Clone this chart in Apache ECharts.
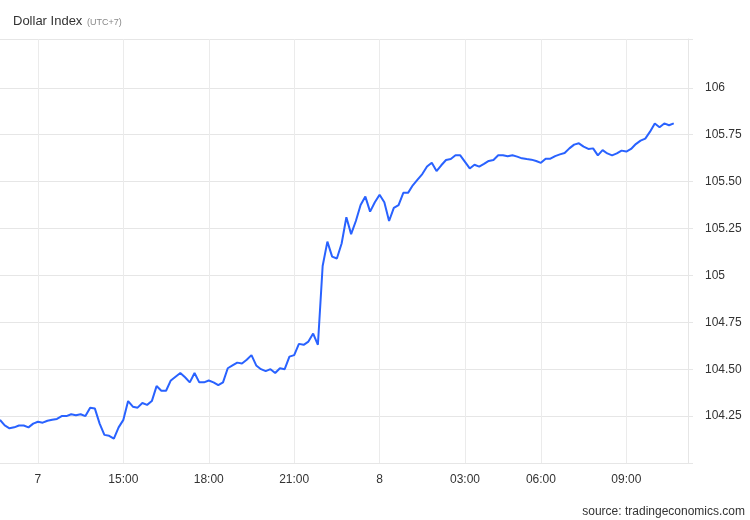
<!DOCTYPE html>
<html><head><meta charset="utf-8">
<script src="https://cdn.jsdelivr.net/npm/echarts@6/dist/echarts.min.js"></script>
<style>html,body{margin:0;padding:0;background:#fff}#c{width:750px;height:520px}</style>
</head><body><div id="c"></div>
<script>
const day7Times = [
"10:40","10:50","11:00","11:10","11:20","11:30","11:40","11:50",
"12:00","12:10","12:20","12:30","12:40","12:50","13:00","13:10","13:20","13:30","13:40","13:50",
"14:00","14:10","14:20","14:30","14:40","14:50","15:00","15:10","15:20","15:30","15:40","15:50",
"16:00","16:10","16:20","16:30","16:40","16:50","17:00","17:10","17:20","17:30","17:40","17:50",
"18:00","18:10","18:20","18:30","18:40","18:50","19:00","19:10","19:20","19:30","19:40","19:50",
"20:00","20:10","20:20","20:30","20:40","20:50","21:00","21:10","21:20","21:30","21:40","21:50",
"22:00","22:10","22:20","22:30","22:40","22:50","23:00","23:10","23:20","23:30","23:40","23:50"];
const day8Times = [
"00:00","00:10","00:20","00:30","00:40","00:50","01:00","01:10","01:20","01:30","01:40","01:50",
"02:00","02:10","02:20","02:30","02:40","02:50","03:00","03:10","03:20","03:30","03:40","03:50",
"04:00","04:10","04:20","04:30","04:40","04:50","05:20","05:30","05:40","05:50",
"06:00","06:10","06:20","06:30","06:40","06:50","07:00","07:10","07:20","07:30","07:40","07:50",
"08:00","08:10","08:20","08:30","08:40","08:50","09:00","09:10","09:20","09:30","09:40","09:50",
"10:00","10:10","10:20","10:30","10:40","10:50","11:00","11:10"];
const dollarIndex = [
104.23,104.20,104.185,104.19,104.20,104.20,104.19,104.21,104.22,104.215,
104.225,104.23,104.235,104.25,104.25,104.26,104.255,104.26,104.25,104.295,
104.29,104.21,104.15,104.145,104.13,104.19,104.23,104.33,104.30,104.295,
104.32,104.31,104.33,104.41,104.385,104.385,104.44,104.46,104.48,104.457,
104.43,104.48,104.43,104.43,104.44,104.43,104.415,104.43,104.505,104.52,
104.535,104.53,104.55,104.575,104.52,104.50,104.49,104.50,104.48,104.505,
104.50,104.567,104.575,104.635,104.63,104.647,104.69,104.63,105.05,105.18,
105.10,105.09,105.17,105.31,105.22,105.29,105.375,105.42,105.34,105.39,
105.43,105.39,105.29,105.36,105.375,105.44,105.44,105.48,105.51,105.54,
105.58,105.60,105.556,105.587,105.615,105.62,105.64,105.64,105.605,105.57,
105.59,105.58,105.594,105.61,105.615,105.64,105.64,105.635,105.64,105.633,
105.624,105.62,105.617,105.61,105.60,105.622,105.622,105.636,105.645,105.652,
105.677,105.697,105.704,105.686,105.674,105.677,105.64,105.668,105.65,105.64,
105.65,105.665,105.66,105.674,105.70,105.718,105.729,105.766,105.81,105.79,
105.81,105.80,105.81];
const tickCategories = ["7 12:00","7 15:00","7 18:00","7 21:00","8 00:00","8 03:00","8 06:00","8 09:00"];
const tickLabels = ["7","15:00","18:00","21:00","8","03:00","06:00","09:00"];
const yMin = 104, yMax = 106.26;
const yGridValues = [104, 104.25, 104.5, 104.75, 105, 105.25, 105.5, 105.75, 106, 106.26];
const yLabelValues = [104.25, 104.5, 104.75, 105, 105.25, 105.5, 105.75, 106];

const categories = day7Times.map(t => "7 " + t).concat(day8Times.map(t => "8 " + t));
const isTick = (idx, val) => tickCategories.indexOf(val) >= 0;
const FONT = "'Liberation Sans', Arial, sans-serif";

const chart = echarts.init(document.getElementById('c'), null, {renderer: 'canvas'});
chart.setOption({
  animation: false,
  backgroundColor: '#fff',
  title: {
    left: 13, top: 15, padding: 0,
    text: 'Dollar Index',
    textStyle: {fontFamily: FONT, fontWeight: 'normal', fontSize: 13, color: '#333'}
  },
  graphic: [{
    type: 'text', left: 87, top: 18,
    style: {text: '(UTC+7)', font: "9px 'Liberation Sans', Arial, sans-serif", fill: '#888'}
  }, {
    type: 'text', right: 5, top: 506,
    style: {text: 'source: tradingeconomics.com', font: "12px 'Liberation Sans', Arial, sans-serif", fill: '#333'}
  }],
  grid: {left: 0, right: 62, top: 39, bottom: 57},
  xAxis: {
    type: 'category', boundaryGap: false, data: categories,
    axisLine: {show: true, lineStyle: {color: '#e6e6e6'}},
    axisTick: {show: false},
    axisLabel: {
      interval: isTick, margin: 11, color: '#333', fontSize: 12, fontFamily: FONT,
      formatter: v => tickLabels[tickCategories.indexOf(v)]
    },
    splitLine: {show: true, interval: isTick, lineStyle: {color: '#ebebeb', width: 1}}
  },
  yAxis: {
    type: 'value', position: 'right', min: yMin, max: yMax,
    axisLine: {show: true, lineStyle: {color: '#e6e6e6'}},
    axisTick: {show: true, length: 5, customValues: yGridValues, lineStyle: {color: '#e6e6e6'}},
    axisLabel: {
      margin: 17, color: '#333', fontSize: 12, fontFamily: FONT, customValues: yLabelValues,
      formatter: v => Math.abs(v - Math.round(v)) < 1e-9 ? String(Math.round(v)) : v.toFixed(2)
    },
    splitLine: {show: true, lineStyle: {color: '#e6e6e6', width: 1}}
  },
  series: [{
    type: 'line', data: dollarIndex, showSymbol: false, symbol: 'none',
    lineStyle: {color: '#2962ff', width: 2}, itemStyle: {color: '#2962ff'}
  }]
});
</script>
</body></html>
